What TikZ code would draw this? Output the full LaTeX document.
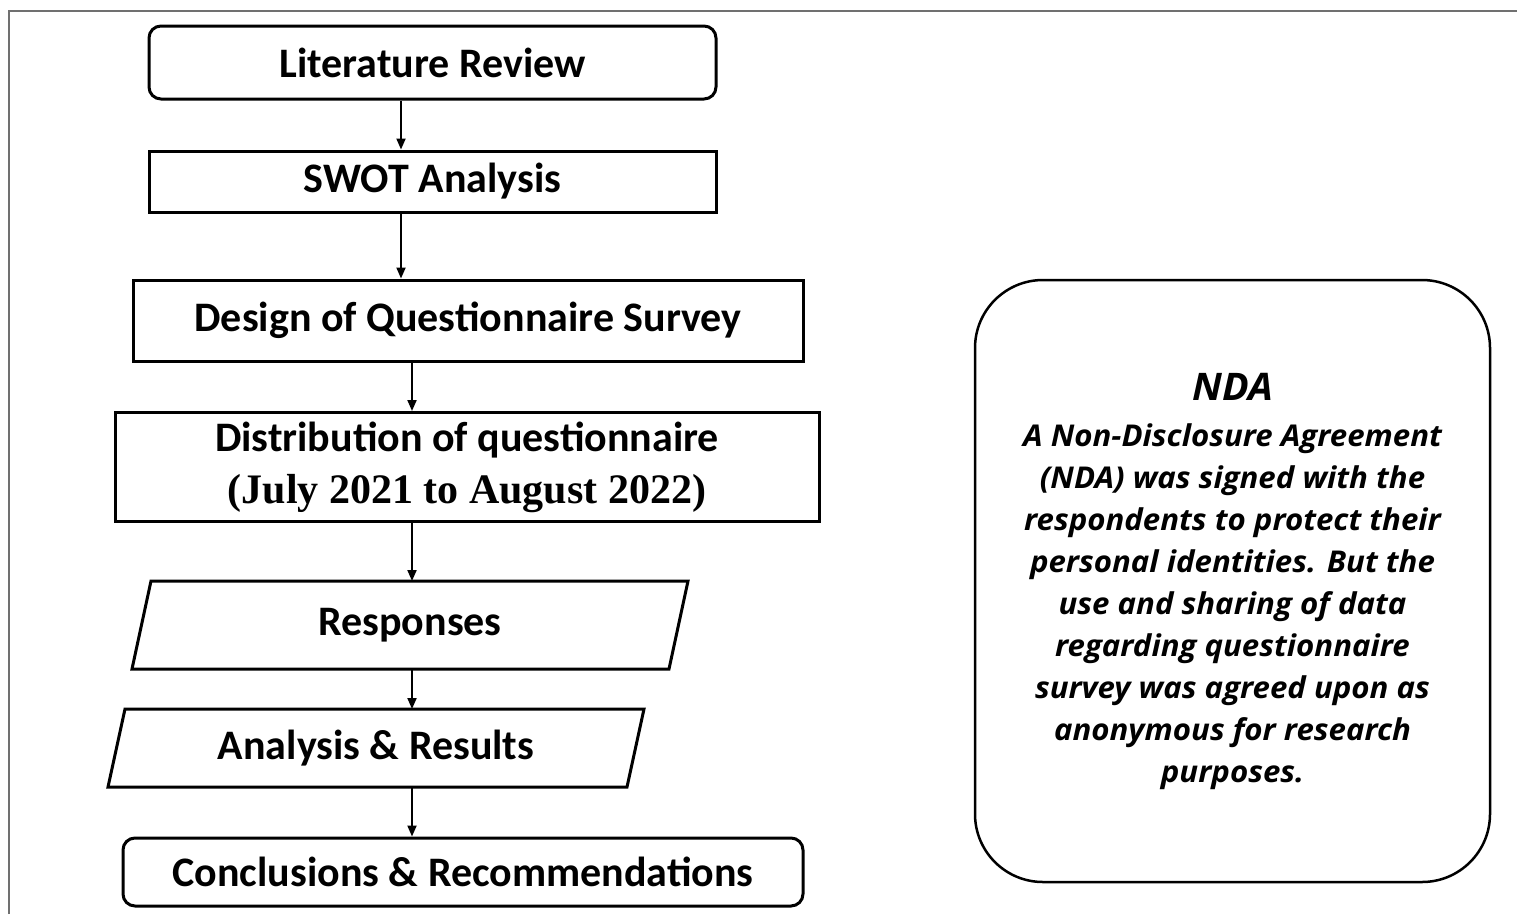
\documentclass[tikz,border=0pt]{standalone}
\usepackage{fontspec}
\setmainfont{Carlito}
\newfontfamily\serifbold{Liberation Serif}
\newfontfamily\notefont[FakeStretch=1.04]{Open Sans}
\usetikzlibrary{arrows.meta}
\definecolor{framegray}{HTML}{707070}

\begin{document}
\begin{tikzpicture}[x=1pt,y=-1pt,
  stepfont/.style={font=\fontsize{42}{50}\selectfont\bfseries},
  plainbox/.style={draw=black, line width=3pt, inner sep=0pt, stepfont, text=black},
  roundbox/.style={plainbox, rounded corners=12pt},
  slantbox/.style={inner sep=0pt, outer sep=1.5pt, stepfont, text=black},
  slantline/.style={draw=black, line width=3pt, line join=miter},
  arr/.style={draw=black, line width=2pt, -{Triangle[length=11pt,width=9pt]}},
  notebox/.style={draw=black, line width=2.5pt, rounded corners=68pt, inner sep=0pt,
    align=center, text=black,
    font=\notefont\bfseries\itshape\fontsize{30}{42}\selectfont}]

\useasboundingbox (0,0) rectangle (1517,914);

% outer frame (top and left edges only)
\draw[framegray, line width=2.5pt] (9,914) -- (9,11) -- (1517,11);

% flow of steps
\node[roundbox, minimum width=567pt, minimum height=73pt] (lit) at (432.5,62.5) {Literature Review};
\node[plainbox, minimum width=567pt, minimum height=61pt] (swot) at (432.5,181.5) {SWOT Analysis};
\node[plainbox, minimum width=670pt, minimum height=81pt] (design) at (468,320.5) {Design of Questionnaire Survey};
\node[plainbox, minimum width=704pt, minimum height=109pt, align=center,
      font=\fontsize{42}{52}\selectfont\bfseries] (dist) at (467,467)
      {Distribution of questionnaire\\{\serifbold (July 2021 to August 2022)}};

\node[slantbox, minimum width=534pt, minimum height=85pt] (resp) at (410,625) {Responses};
\draw[slantline] ([xshift=9.5pt]resp.north west) -- ([xshift=9.5pt]resp.north east)
  -- ([xshift=-9.5pt]resp.south east) -- ([xshift=-9.5pt]resp.south west) -- cycle;

\node[slantbox, minimum width=516pt, minimum height=75pt] (anl) at (376,748) {Analysis \& Results};
\draw[slantline] ([xshift=8.5pt]anl.north west) -- ([xshift=8.5pt]anl.north east)
  -- ([xshift=-8.5pt]anl.south east) -- ([xshift=-8.5pt]anl.south west) -- cycle;

\node[roundbox, minimum width=680pt, minimum height=68pt] (concl) at (463,872) {Conclusions \& Recommendations};

% connectors
\coordinate (axA) at (401,0);
\coordinate (axB) at (412,0);
\draw[arr] (lit.south -| axA) -- (swot.north -| axA);
\draw[arr] (swot.south -| axA) -- (design.north -| axA);
\draw[arr] (design.south -| axB) -- (dist.north -| axB);
\draw[arr] (dist.south -| axB) -- (resp.north -| axB);
\draw[arr] (resp.south -| axB) -- (anl.north -| axB);
\draw[arr] (anl.south -| axB) -- (concl.north -| axB);

% note on confidentiality
\node[notebox, minimum width=515pt, minimum height=602pt] (nda) at (1232.5,581)
  {{\fontsize{38}{42}\selectfont NDA}\\[4pt]
   A Non-Disclosure Agreement\\
   (NDA) was signed with the\\
   respondents to protect their\\
   personal identities. But the\\
   use and sharing of data\\
   regarding questionnaire\\
   survey was agreed upon as\\
   anonymous for research\\
   purposes.};

\end{tikzpicture}
\end{document}
